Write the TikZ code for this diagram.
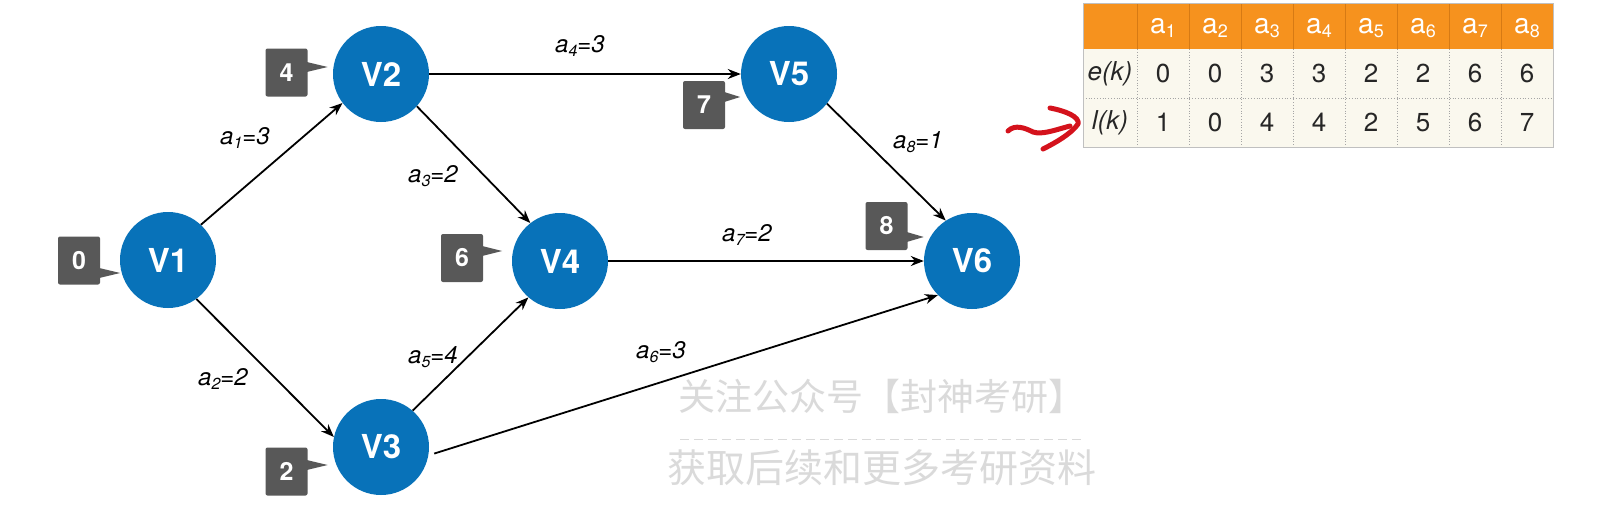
\documentclass[tikz,border=0pt]{standalone}
\usepackage{fontspec}
\setmainfont{TeX Gyre Heros}
\newfontfamily\cjk{Noto Sans CJK SC}
\usetikzlibrary{arrows.meta,calc}
\definecolor{nodeblue}{RGB}{8,114,185}
\definecolor{taggray}{RGB}{88,88,88}
\definecolor{hdrorange}{RGB}{246,146,30}
\definecolor{hdrline}{RGB}{214,122,20}
\definecolor{cream}{RGB}{250,248,238}
\definecolor{gridgray}{RGB}{165,165,165}
\definecolor{wmgray}{RGB}{218,218,218}
\definecolor{penred}{RGB}{212,18,28}
\newcommand{\elab}[2]{\itshape a\raisebox{-3.5pt}{\fontsize{16}{16}\selectfont #1}=#2}
\newcommand{\hsub}[1]{a\raisebox{-3.5pt}{\fontsize{18}{18}\selectfont #1}}
\newcommand{\tagtail}[3]{\fill[taggray] ($(#1.east)+(-1,#2-5)$) -- ($(#1.east)+(#3,#2)$) -- ($(#1.east)+(-1,#2+5)$) -- cycle;}
\begin{document}
\begin{tikzpicture}[x=1pt,y=-1pt,
  vnode/.style={circle,fill=nodeblue,minimum size=96pt,inner sep=0pt,text=white,font=\fontsize{33}{36}\selectfont\bfseries},
  tagbox/.style={rectangle,fill=taggray,minimum width=42pt,minimum height=48pt,inner sep=0pt,rounded corners=2pt,text=white,font=\fontsize{25}{28}\selectfont\bfseries},
  arr/.style={line width=1.8pt,-{Stealth[length=13pt,width=10pt]}},
  elabel/.style={inner sep=0pt,font=\fontsize{24}{26}\selectfont},
  cell/.style={inner sep=0pt,text=black!85,font=\fontsize{26}{28}\selectfont},
  hcell/.style={inner sep=0pt,text=white,font=\fontsize{28}{30}\selectfont},
  wm/.style={inner sep=0pt,text=wmgray}]
\useasboundingbox (0,0) rectangle (1602,506);
\fill[white] (0,0) rectangle (1602,506);

% watermark
\node[wm,font=\cjk\fontsize{37}{40}\selectfont] (wm1) at (882,396) {关注公众号【封神考研】};
\draw[wmgray,line width=1pt,dash pattern=on 9pt off 5pt] (680,439) -- (1082,439);
\node[wm,font=\cjk\fontsize{39}{42}\selectfont] (wm2) at (882,468) {获取后续和更多考研资料};

% vertices
\node[vnode] (V1) at (168,260) {V1};
\node[vnode] (V2) at (381,74) {V2};
\node[vnode] (V3) at (381,447) {V3};
\node[vnode] (V4) at (560,261) {V4};
\node[vnode] (V5) at (789,74) {V5};
\node[vnode] (V6) at (972,261) {V6};

% tags
\node[tagbox] (t0) at (79,260.5) {0};   \tagtail{t0}{12.5}{20}
\node[tagbox] (t4) at (286.5,72.5) {4}; \tagtail{t4}{-5.5}{20}
\node[tagbox] (t2) at (286.5,471.5) {2};\tagtail{t2}{-6.5}{20}
\node[tagbox] (t6) at (462,258) {6};    \tagtail{t6}{-7}{19}
\node[tagbox] (t7) at (704,105) {7};    \tagtail{t7}{-8}{15}
\node[tagbox] (t8) at (886.5,226) {8};  \tagtail{t8}{11}{16}

% edges
\draw[arr] (V1.47) -- (V2.217);
\draw[arr] (V1.-54) -- (V3.168);
\draw[arr] (V2.-42) -- (V4.128);
\draw[arr] (V2.east) -- (V5.west);
\draw[arr] (V3.49) -- (V4.229);
\draw[arr,shorten <=6pt] (V3.-10) -- (V6.225);
\draw[arr] (V4.east) -- (V6.west);
\draw[arr] (V5.-38) -- (V6.123);

% edge labels
\node[elabel] (l1) at (245,138) {\elab{1}{3}};
\node[elabel] (l2) at (223,379) {\elab{2}{2}};
\node[elabel] (l3) at (433,176) {\elab{3}{2}};
\node[elabel] (l4) at (580,46) {\elab{4}{3}};
\node[elabel] (l5) at (433,357) {\elab{5}{4}};
\node[elabel] (l6) at (661,352) {\elab{6}{3}};
\node[elabel] (l7) at (747,235) {\elab{7}{2}};
\node[elabel] (l8) at (918,142) {\elab{8}{1}};

% table
\fill[hdrorange] (1083,3) rectangle (1553,49);
\fill[cream] (1083,49) rectangle (1553,147);
\foreach \k in {0,...,7} {
  \draw[hdrline,line width=0.8pt] ({1137+52*\k},3) -- ({1137+52*\k},49);
  \draw[gridgray,line width=0.8pt,dotted] ({1137+52*\k},49) -- ({1137+52*\k},147);
}
\draw[gridgray,line width=0.8pt,dotted] (1083,98) -- (1553,98);
\draw[gridgray!70,line width=0.8pt] (1083,3) rectangle (1553,147);
\foreach \i in {1,...,8}
  \node[hcell] (h\i) at ({1163+52*(\i-1)},28) {\hsub{\i}};
\node[cell] (erow) at (1110,73.5) {\itshape e(k)};
\node[cell] (lrow) at (1110,122.5) {\itshape l(k)};
\foreach \v [count=\i] in {0,0,3,3,2,2,6,6}
  \node[cell] (e\i) at ({1163+52*(\i-1)},73.5) {\v};
\foreach \v [count=\i] in {1,0,4,4,2,5,6,7}
  \node[cell] (l\i) at ({1163+52*(\i-1)},122.5) {\v};

% red hand-drawn arrow
\draw[penred,line width=5pt,line cap=round,line join=round]
  (1008,131) .. controls (1015,124) and (1025,128) .. (1033,132)
  .. controls (1042,135) and (1055,130) .. (1070,126);
\draw[penred,line width=5pt,line cap=round,line join=round]
  (1050,108) .. controls (1066,111) and (1080,117) .. (1078,124)
  .. controls (1071,134) and (1055,143) .. (1043,149);
\end{tikzpicture}
\end{document}
